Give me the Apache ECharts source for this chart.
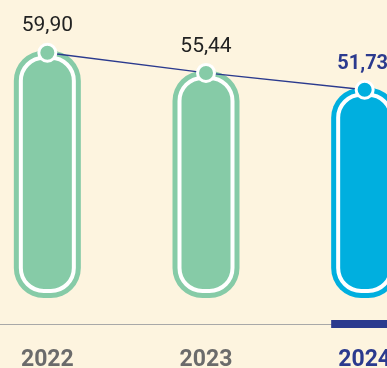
<!DOCTYPE html>
<html>
<head>
<meta charset="utf-8">
<script src="https://cdn.jsdelivr.net/npm/echarts@6/dist/echarts.min.js"></script>
<style>
  html, body { margin: 0; padding: 0; background: #fdf4df; overflow: hidden; width: 387px; height: 368px; position: relative; }
  #chart { position: absolute; left: -32px; top: 0; width: 476px; height: 368px; }
</style>
</head>
<body>
<div id="chart"></div>
<script>
// Yearly values shown as rounded pills with a connecting trend line
const years = ['2022', '2023', '2024'];
const values = [59.90, 55.44, 51.73];
const valueLabels = ['59,90', '55,44', '51,73'];
const highlighted = [false, false, true];

const GREEN = '#86cba7';
const BLUE = '#00afdf';
const NAVY = '#2b3a8e';

const chart = echarts.init(document.getElementById('chart'), null, { renderer: 'canvas' });

function pill(params, api) {
  const i = params.dataIndex;
  const top = api.coord([i, api.value(1)]);
  const base = api.coord([i, 0]);
  const w = 67;
  const x = top[0] - w / 2;
  const y0 = top[1] - 2;
  const y1 = base[1] - 26;
  const color = highlighted[i] ? BLUE : GREEN;
  const children = [
    { type: 'rect', shape: { x: x, y: y0, width: w, height: y1 - y0, r: 30 }, style: { fill: color } },
    { type: 'rect', shape: { x: x + 7, y: y0 + 7, width: w - 14, height: y1 - y0 - 14, r: 23 },
      style: { fill: color, stroke: '#ffffff', lineWidth: 4 } }
  ];
  if (highlighted[i]) {
    children.push({ type: 'rect', shape: { x: x, y: base[1] - 4, width: w + 60, height: 8 }, style: { fill: NAVY } });
  }
  return { type: 'group', children: children };
}

chart.setOption({
  backgroundColor: '#fdf4df',
  animation: false,
  grid: { left: 0, right: 0, top: 7, bottom: 44, containLabel: false, outerBoundsMode: 'none' },
  xAxis: {
    type: 'category',
    data: years.map((y, i) => ({
      value: y,
      textStyle: { color: highlighted[i] ? NAVY : '#6b6b6b' }
    })),
    axisLine: { lineStyle: { color: '#a8a8a8', width: 1 } },
    axisTick: { show: false },
    axisLabel: { fontFamily: 'Roboto', fontWeight: 'bold', fontSize: 23, margin: 25 }
  },
  yAxis: { type: 'value', min: 0, max: 70, show: false, splitLine: { show: false } },
  series: [
    {
      type: 'custom',
      renderItem: pill,
      clip: false,
      data: values.map((v, i) => [i, v]),
      encode: { x: 0, y: 1 },
      z: 2
    },
    {
      type: 'line',
      data: values.map((v, i) => ({
        value: v,
        itemStyle: { color: highlighted[i] ? BLUE : GREEN },
        label: highlighted[i] ? { fontWeight: 'bold', color: NAVY, fontSize: 20, offset: [-2, 0] } : {}
      })),
      symbol: 'circle',
      symbolSize: 17,
      itemStyle: { borderColor: '#ffffff', borderWidth: 3 },
      lineStyle: { color: NAVY, width: 1.3 },
      label: {
        show: true,
        position: 'top',
        distance: 6,
        fontFamily: 'Roboto',
        fontSize: 21,
        color: '#222222',
        formatter: p => valueLabels[p.dataIndex]
      },
      z: 5
    }
  ]
});
</script>
</body>
</html>
